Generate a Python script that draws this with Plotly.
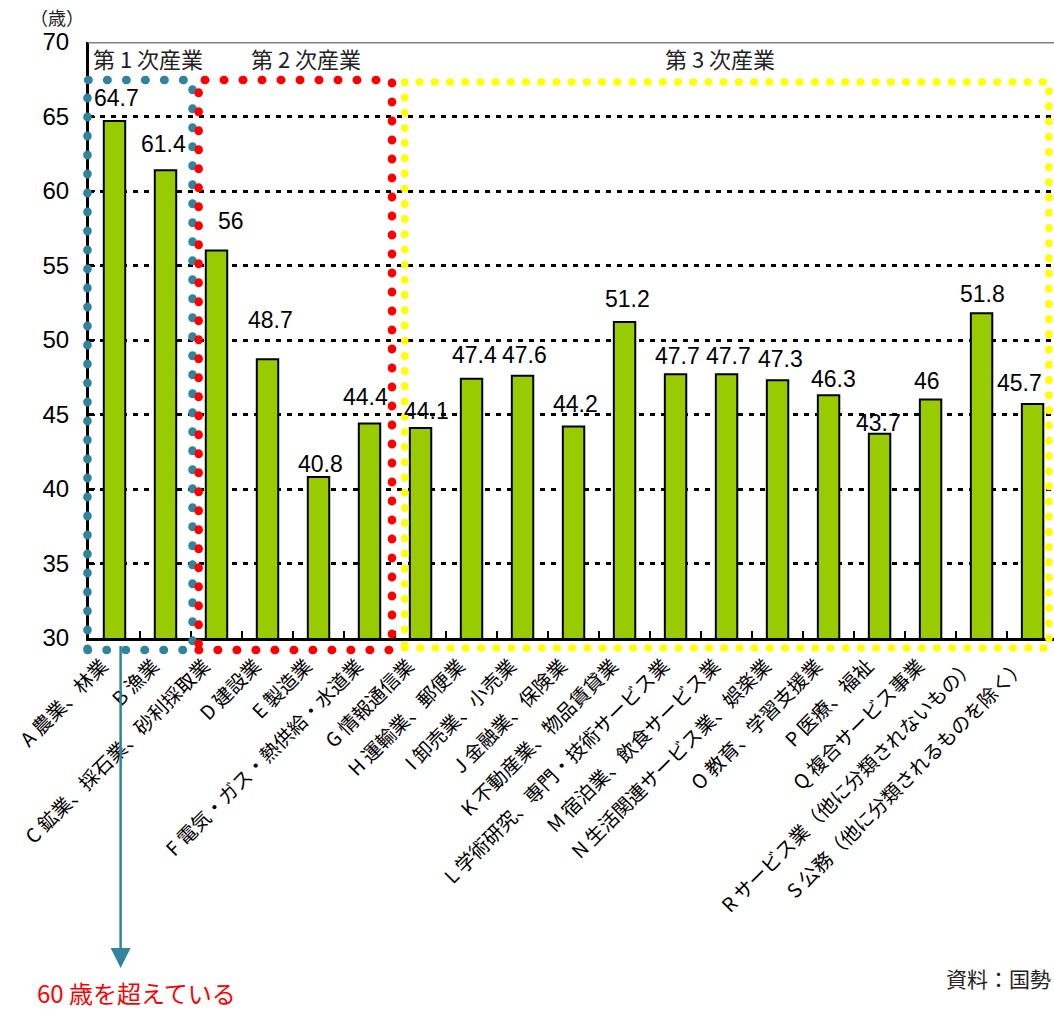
import plotly.graph_objects as go

# ---- data ----
categories = [
    "A 農業、林業", "B 漁業", "C 鉱業、採石業、砂利採取業", "D 建設業", "E 製造業",
    "F 電気・ガス・熱供給・水道業", "G 情報通信業", "H 運輸業、郵便業", "I 卸売業、小売業",
    "J 金融業、保険業", "K 不動産業、物品賃貸業", "L 学術研究、専門・技術サービス業",
    "M 宿泊業、飲食サービス業", "N 生活関連サービス業、娯楽業", "O 教育、学習支援業",
    "P 医療、福祉", "Q 複合サービス事業", "R サービス業（他に分類されないもの）",
    "S 公務（他に分類されるものを除く）",
]
ages = [64.7, 61.4, 56, 48.7, 40.8, 44.4, 44.1, 47.4, 47.6, 44.2, 51.2,
        47.7, 47.7, 47.3, 46.3, 43.7, 46, 51.8, 45.7]
y_ticks = [30, 35, 40, 45, 50, 55, 60, 65, 70]
sector_names = ["第 1 次産業", "第 2 次産業", "第 3 次産業"]

# label nudges (pixels) for value labels
label_dx = [2, -2, 14, 3, 2, -4, 6, 3, 2, 2, 3, 2, 2, 3, 5, -1, -4, 1, -13]
label_dy = [23, 26, 30, 39, 13, 26, 17, 24, 21, 22, 23, 18, 18, 21, 16, 11, 19, 19, 21]

# ---- layout geometry ----
W, H = 1054, 1009
ML, MR, MT, MB = 89, 0, 42, 371
X0, X1 = -0.5, 18.42
Y0, Y1 = 30, 70


def cx(c):
    return (c - X0) / (X1 - X0)


def px(pix):
    return (pix - ML) / (W - ML - MR)


def py(pix):
    # pixel y (from top of figure) -> paper y
    return (H - MB - pix) / (H - MT - MB)


FONT_NUM = "Arial, Liberation Sans, sans-serif"
FONT_JP = "Noto Sans CJK JP, sans-serif"

fig = go.Figure()
fig.add_trace(go.Bar(
    x=categories, y=ages, width=0.42,
    marker=dict(color="#99CC00", line=dict(color="black", width=2)),
    hoverinfo="skip",
))

annotations = []
for cat, v, dx, dy in zip(categories, ages, label_dx, label_dy):
    annotations.append(dict(
        x=cat, y=v, xref="x", yref="y", text=str(v), showarrow=False,
        xshift=dx, yshift=dy, yanchor="middle",
        font=dict(family=FONT_NUM, size=23, color="black"),
    ))

# sector headers
for name, xc in zip(sector_names, [148, 306, 720]):
    annotations.append(dict(
        x=px(xc), y=py(58), xref="paper", yref="paper", text=name, showarrow=False,
        xanchor="center", yanchor="middle",
        font=dict(family=FONT_JP, size=22, color="#222"),
    ))

# unit
annotations.append(dict(
    x=px(57), y=py(17), xref="paper", yref="paper", text="（歳）",
    showarrow=False, xanchor="center", yanchor="middle",
    font=dict(family=FONT_JP, size=18, color="#222"),
))

# arrow
annotations.append(dict(
    x=cx(0.12), y=py(968), xref="paper", yref="paper", text=" ",
    showarrow=True, ax=0, ay=-326, axref="pixel", ayref="pixel",
    arrowhead=2, arrowsize=1.6, arrowwidth=2.5, arrowcolor="#31849B", standoff=0,
    font=dict(size=4),
))
annotations.append(dict(
    x=px(136), y=py(992), xref="paper", yref="paper",
    text="60 歳を超えている", showarrow=False, xanchor="center", yanchor="middle",
    font=dict(family=FONT_JP, size=24, color="#FF0000"),
))
annotations.append(dict(
    x=px(1053), y=py(978), xref="paper", yref="paper",
    text="資料：国勢", showarrow=False, xanchor="right", yanchor="middle",
    font=dict(family=FONT_JP, size=21, color="#222"),
))

shapes = [
    # top border line at 70
    dict(type="line", xref="paper", yref="y", x0=0, x1=1, y0=70, y1=70,
         line=dict(color="#808080", width=3), layer="above"),
    # sector boxes
    dict(type="rect", xref="paper", yref="paper", x0=cx(-0.53), x1=cx(1.53),
         y0=py(650), y1=py(80), line=dict(color="#31849B", width=8.5, dash="0.5px,18.5px"),
         layer="above"),
    dict(type="rect", xref="paper", yref="paper", x0=cx(1.65), x1=cx(5.44),
         y0=py(650), y1=py(80), line=dict(color="#FF0000", width=8.5, dash="0.5px,18.5px"),
         layer="above"),
    dict(type="rect", xref="paper", yref="paper", x0=cx(5.69), x1=cx(18.32),
         y0=py(648), y1=py(82), line=dict(color="#FFFF00", width=7.5, dash="0.5px,14.7px"),
         layer="above"),
]

fig.update_layout(
    width=W, height=H,
    margin=dict(l=ML, r=MR, t=MT, b=MB, pad=0),
    plot_bgcolor="white", paper_bgcolor="white",
    showlegend=False, bargap=0.5,
    annotations=annotations, shapes=shapes,
    xaxis=dict(
        type="category", range=[X0, X1],
        showline=True, linecolor="black", linewidth=3,
        ticks="inside", tickson="boundaries", ticklen=7, tickwidth=2, tickcolor="black",
        tickangle=-45, tickfont=dict(family=FONT_JP, size=19.5, color="black"),
        showgrid=False, zeroline=False, ticklabelstandoff=6, ticklabelshift=-12,
    ),
    yaxis=dict(
        range=[Y0, Y1], tickvals=y_ticks,
        showline=True, linecolor="black", linewidth=3,
        ticks="inside", ticklen=6, tickwidth=2, tickcolor="black",
        tickfont=dict(family=FONT_NUM, size=24, color="black"),
        showgrid=True, gridcolor="black", gridwidth=2.5, griddash="5px,6px",
        zeroline=False, ticklabelstandoff=12,
    ),
)

post = ("document.body.style.margin='0';document.body.style.overflow='hidden';"
        "var gd=document.getElementById('{plot_id}');"
        "function r(){gd.querySelectorAll('.shapelayer path').forEach(function(p){"
        "p.style.strokeLinecap='round';});}"
        "r(); gd.on('plotly_afterplot', r);")

fig.write_html("out.html", post_script=post, config={"displayModeBar": False})
